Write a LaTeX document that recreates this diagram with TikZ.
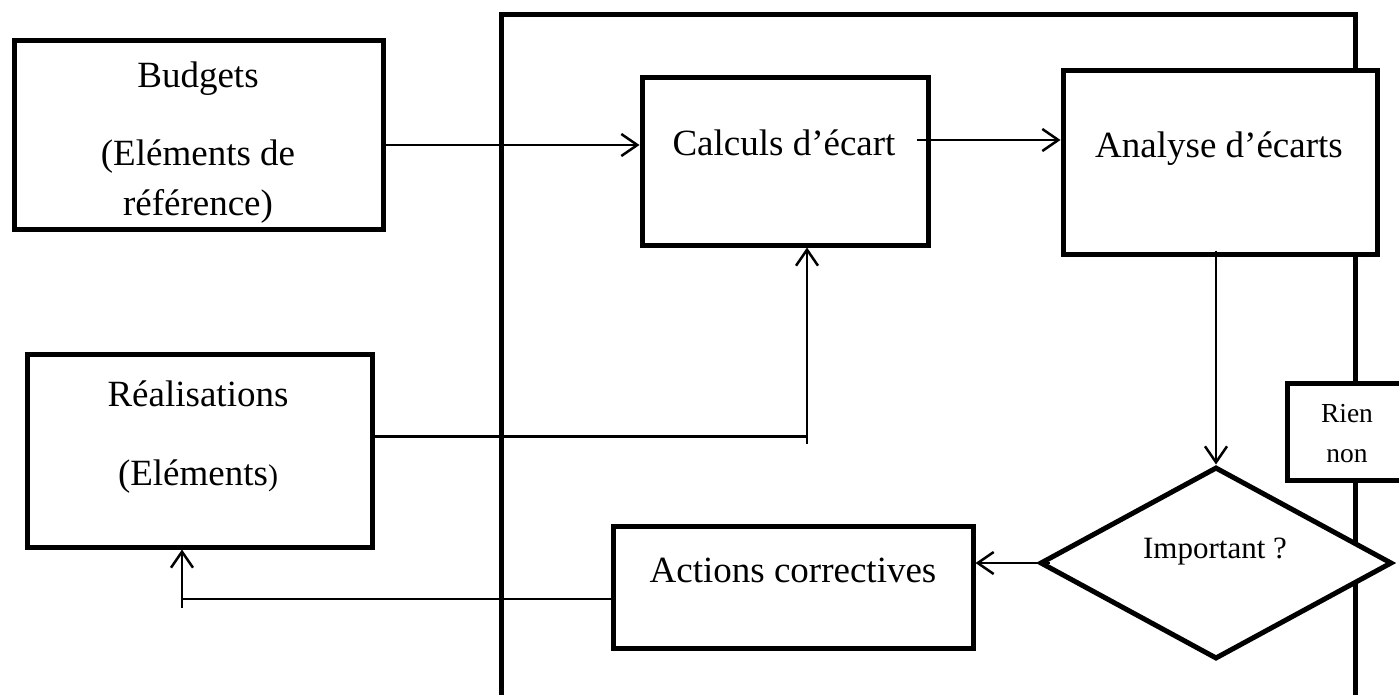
\documentclass[tikz,border=0pt]{standalone}
\usepackage{fontspec}
\setmainfont{Liberation Serif}
\usetikzlibrary{arrows.meta,shapes.geometric,calc}
\begin{document}
\begin{tikzpicture}[x=1pt,y=-1pt,
  box/.style={draw,line width=5pt,fill=white,inner sep=0pt},
  conn/.style={line width=2.5pt},
  arr/.style={conn,-{Straight Barb[length=16pt,width=22pt,line width=2.5pt]}},
  lbl/.style={anchor=base,inner sep=0pt,font=\fontsize{37}{44}\selectfont},
  small/.style={anchor=base,inner sep=0pt,font=\fontsize{31}{37}\selectfont},
  tiny/.style={anchor=base,inner sep=0pt,font=\fontsize{27.5}{33}\selectfont}]
\useasboundingbox (0,0) rectangle (1399,694);
\clip (0,0) rectangle (1399,694);
\fill[white] (0,0) rectangle (1399,694);

% control loop frame, open at the bottom
\draw[line width=5pt,line join=miter] (501.5,710) -- (501.5,14.5) -- (1355,14.5) -- (1355,710);

% boxes
\node[box,minimum width=368.5pt,minimum height=188.5pt] (budg) at (198.75,134.75) {};
\node[box,minimum width=345pt,minimum height=193pt] (real) at (199.5,450.5) {};
\node[box,minimum width=286pt,minimum height=168pt] (calc) at (785,161) {};
\node[box,minimum width=314pt,minimum height=184pt] (anal) at (1220,162) {};
\node[box,minimum width=360pt,minimum height=122pt] (act) at (793,587) {};
\node[box,minimum width=120pt,minimum height=97pt] (rien) at (1347,431.5) {};
\node[box,diamond,minimum width=352pt,minimum height=192pt] (dia) at (1216,563) {};

% texts
\node[lbl] (tb1) at (198,87) {Budgets};
\node[lbl] (tb2) at (198,165) {(Eléments de};
\node[lbl] (tb3) at (198,215) {référence)};
\node[lbl] (tr1) at (198,406) {Réalisations};
\node[lbl] (tr2) at (198,485) {(Eléments{\fontsize{30}{36}\selectfont)}};
\node[lbl] (tc) at (784,155) {Calculs d’écart};
\node[lbl] (ta) at (1219,157) {Analyse d’écarts};
\node[lbl] (tact) at (793,582) {Actions correctives};
\node[tiny] (tn1) at (1347,422) {Rien};
\node[tiny] (tn2) at (1347,462) {non};
\node[small] (ti) at (1215,558) {Important ?};

% connectors
\draw[arr] ([yshift=-10.25pt]budg.east) -- ([yshift=-10.25pt]budg.east -| calc.west);
\draw[arr] ([xshift=-14pt,yshift=21pt]calc.east) -- ([yshift=21pt]calc.east -| anal.west);

\coordinate (rr) at ($(real.east)+(0,-14)$);
\coordinate (cs) at ($(calc.south)+(22,0)$);
\draw[conn] (rr) -- (rr -| cs);
\draw[arr] ($(rr -| cs)+(0,7)$) -- (cs);

\draw[arr] ($(anal.south -| dia.north)+(0,-6)$) -- (dia.north);
\draw[conn] ($(dia.west)+(12,0)$) -- (dia.west);
\draw[arr] (dia.west) -- (dia.west -| act.east);

\coordinate (aw) at ($(act.west)+(0,12)$);
\coordinate (rs) at ($(real.south)+(-17.5,0)$);
\draw[conn] (aw) -- (aw -| rs);
\draw[arr] ($(aw -| rs)+(0,9)$) -- (rs);
\end{tikzpicture}
\end{document}
